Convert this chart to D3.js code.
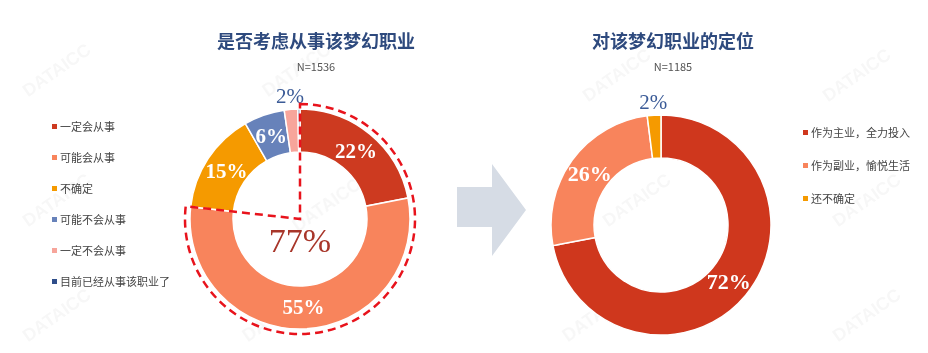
<!DOCTYPE html>
<html>
<head>
<meta charset="utf-8">
<script src="https://cdn.jsdelivr.net/npm/d3@7"></script>
<style>
  body { margin: 0; background: #fff; }
  svg { display: block; }
</style>
</head>
<body>
<svg id="chart" width="928" height="353"></svg>
<script>
// left chart: 是否考虑从事该梦幻职业
var leftCats = ['一定会从事', '可能会从事', '不确定', '可能不会从事', '一定不会从事', '目前已经从事该职业了'];
var leftValues = [22, 55, 15, 6, 2, 0.3];
var leftLabels = ['22%', '55%', '15%', '6%', '2%', ''];
var leftColors = ['#CD3A20', '#F8845C', '#F59A00', '#6782BA', '#F7A59B', '#2F4E8A'];
var leftTitle = '是否考虑从事该梦幻职业';
var leftN = 'N=1536';
var leftHighlight = '77%';

// right chart: 对该梦幻职业的定位
var rightCats = ['作为主业，全力投入', '作为副业，愉悦生活', '还不确定'];
var rightValues = [72, 26, 2];
var rightLabels = ['72%', '26%', '2%'];
var rightColors = ['#CF371D', '#F8845C', '#F59A00'];
var rightTitle = '对该梦幻职业的定位';
var rightN = 'N=1185';

var svg = d3.select('#chart');
var cjk = '"Noto Sans CJK SC", "Noto Sans", sans-serif';
var serif = '"Liberation Serif", "DejaVu Serif", serif';

// faint watermarks
var wm = svg.append('g').attr('fill', '#000').attr('opacity', 0.035)
  .attr('font-family', 'Arial, "Liberation Sans", sans-serif').attr('font-weight', 'bold').attr('font-size', 18);
[[60, 75], [300, 75], [620, 80], [860, 80], [60, 205], [330, 210], [640, 205], [870, 205], [60, 320], [280, 320], [600, 320], [870, 320]]
  .forEach(function (p) {
    wm.append('text').attr('transform', 'translate(' + p[0] + ',' + p[1] + ') rotate(-35)')
      .attr('text-anchor', 'middle').text('DATAICC');
  });

function donut(cx, cy, values, colors, labels, outerIdx, fs) {
  var g = svg.append('g').attr('transform', 'translate(' + cx + ',' + cy + ')');
  var pie = d3.pie().sort(null).value(function (d) { return d; });
  var arcs = pie(values);
  var arc = d3.arc().innerRadius(67).outerRadius(110);
  var labelArc = d3.arc().innerRadius(88).outerRadius(88);
  var outArc = d3.arc().innerRadius(124).outerRadius(124);

  g.selectAll('path.slice').data(arcs).enter().append('path')
    .attr('class', 'slice')
    .attr('d', arc)
    .attr('fill', function (d, i) { return colors[i]; })
    .attr('stroke', '#fff').attr('stroke-width', 1.5);

  g.selectAll('text.lbl').data(arcs).enter().append('text')
    .attr('class', 'lbl')
    .attr('transform', function (d, i) {
      var c = (outerIdx.indexOf(i) >= 0 ? outArc : labelArc).centroid(d);
      return 'translate(' + c[0] + ',' + c[1] + ')';
    })
    .attr('text-anchor', 'middle').attr('dy', '0.35em')
    .attr('font-family', serif)
    .attr('font-size', function (d, i) { return outerIdx.indexOf(i) >= 0 ? 21 : fs; })
    .attr('font-weight', function (d, i) { return outerIdx.indexOf(i) >= 0 ? 'normal' : 'bold'; })
    .attr('fill', function (d, i) { return outerIdx.indexOf(i) >= 0 ? '#3B5B97' : '#fff'; })
    .text(function (d, i) { return labels[i]; });
  return { g: g, arcs: arcs };
}

function heading(cx, title, n) {
  svg.append('text').attr('x', cx).attr('y', 48).attr('text-anchor', 'middle')
    .attr('font-family', cjk).attr('font-weight', 'bold').attr('font-size', 18)
    .attr('fill', '#2E4A7E').text(title);
  svg.append('text').attr('x', cx).attr('y', 71).attr('text-anchor', 'middle')
    .attr('font-family', cjk).attr('font-size', 11)
    .attr('fill', '#555').text(n);
}

function legend(x, y0, step, cats, colors) {
  var lg = svg.append('g');
  cats.forEach(function (c, i) {
    var y = y0 + i * step;
    lg.append('rect').attr('x', x).attr('y', y - 3).attr('width', 5).attr('height', 5).attr('fill', colors[i]);
    lg.append('text').attr('x', x + 8).attr('y', y).attr('dy', '0.35em')
      .attr('font-family', cjk).attr('font-size', 11).attr('fill', '#444').text(c);
  });
}

// left
heading(316, leftTitle, leftN);
var L = donut(300, 219, leftValues, leftColors, leftLabels, [4], 21);
legend(52, 127, 31, leftCats, leftColors);

// dashed outline round the first two slices
var endAngle = L.arcs[1].endAngle;
var hl = d3.arc().innerRadius(0).outerRadius(115).startAngle(0).endAngle(endAngle);
L.g.append('path').attr('d', hl)
  .attr('fill', 'none').attr('stroke', '#E8131C').attr('stroke-width', 2.5)
  .attr('stroke-dasharray', '8,5');
L.g.append('text').attr('x', 0).attr('y', 33).attr('text-anchor', 'middle')
  .attr('font-family', serif).attr('font-size', 34).attr('fill', '#A8362A').text(leftHighlight);

// arrow
svg.append('path')
  .attr('d', d3.line()([[457, 187], [492, 187], [492, 164], [526, 210], [492, 256], [492, 227], [457, 227]]) + 'Z')
  .attr('fill', '#D6DCE5');

// right
heading(673, rightTitle, rightN);
donut(661, 225, rightValues, rightColors, rightLabels, [2], 22);
legend(803, 133, 33, rightCats, rightColors);
</script>
</body>
</html>
